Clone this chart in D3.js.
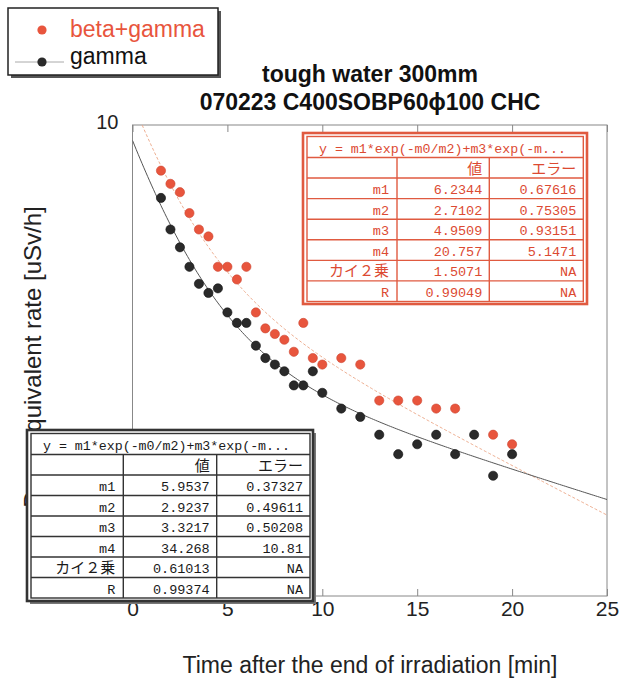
<!DOCTYPE html>
<html><head><meta charset="utf-8">
<script src="https://cdn.jsdelivr.net/npm/d3@7"></script>
<style>body{margin:0;background:#fff}</style>
</head><body>
<svg id="chart" width="630" height="680"></svg>
<script>
// ---- data ----
const timesRed = [1.5,2,2.5,3,3.5,4,4.5,5,5.5,6,6.5,7,7.5,8,8.5,9,9.5,10,11,12,13,14,15,16,17,19,20];
const betaGamma = [8.0,7.5,7.2,6.5,6.0,5.8,5.0,5.0,4.7,5.0,4.0,3.7,3.6,3.5,3.3,3.8,3.2,3.1,3.2,3.1,2.6,2.6,2.6,2.5,2.5,2.2,2.1];
const timesBlack = [1.5,2,2.5,3,3.5,4,4.5,5,5.5,6,6.5,7,7.5,8,8.5,9,9.5,10,11,12,13,14,15,16,17,18,19,20];
const gamma = [7.0,6.0,5.5,5.0,4.6,4.4,4.5,4.0,3.8,3.8,3.4,3.2,3.1,3.0,2.8,2.8,3.0,2.7,2.5,2.4,2.2,2.0,2.1,2.2,2.0,2.2,1.8,2.0];
const xTicks = [0,5,10,15,20,25];
const yTicks = [10];
const seriesNames = ["beta+gamma","gamma"];
const titleLines = ["tough water 300mm","070223 C400SOBP60\u03d5100 CHC"];
const xTitle = "Time after the end of irradiation [min]";
const yTitle = "Dose equivalent rate [uSv/h]";
const fitFormula = "y = m1*exp(-m0/m2)+m3*exp(-m...";
const colHeaders = ["", "値", "エラー"];
const paramNames = ["m1","m2","m3","m4","カイ２乗","R"];
const fitRedValues = ["6.2344","2.7102","4.9509","20.757","1.5071","0.99049"];
const fitRedErrors = ["0.67616","0.75305","0.93151","5.1471","NA","NA"];
const fitBlackValues = ["5.9537","2.9237","3.3217","34.268","0.61013","0.99374"];
const fitBlackErrors = ["0.37327","0.49611","0.50208","10.81","NA","NA"];

// ---- setup ----
const svg = d3.select("#chart");
const SANS = "'Liberation Sans', Arial, sans-serif";
const MONO = "'Liberation Mono', 'DejaVu Sans Mono', 'Noto Sans CJK JP', monospace";
const CJK = "'Noto Sans CJK JP', sans-serif";
const RED = "#e8553d", BLACK = "#2a2a2a";
const TRED = "#dc4a32";

const x = d3.scaleLinear().domain([0,25]).range([132.5,607]);
const y = d3.scaleLog().domain([1,10]).range([596,125]);

// title
svg.selectAll("text.title").data(titleLines).join("text")
  .attr("x", 370).attr("y", (d,i)=> 82 + i*28)
  .attr("text-anchor","middle").attr("font-family",SANS)
  .attr("font-weight","bold").attr("font-size",23).attr("fill","#111")
  .text(d=>d);

// axes
const gx = svg.append("g").attr("transform","translate(0,596)")
  .call(d3.axisBottom(x).tickValues(xTicks).tickSizeInner(-7).tickSizeOuter(0).tickPadding(5).tickFormat(d3.format("d")));
const gxTop = svg.append("g").attr("transform","translate(0,125)")
  .call(d3.axisTop(x).tickValues(xTicks).tickSizeInner(-7).tickSizeOuter(0).tickFormat(""));
const gy = svg.append("g").attr("transform","translate(132.5,0)")
  .call(d3.axisLeft(y).tickValues(yTicks).tickSize(0).tickPadding(14).tickFormat(d3.format("d")));
[gx,gxTop,gy].forEach(g=>{
  g.select(".domain").remove();
  g.selectAll(".tick line").attr("stroke","#888");
  g.selectAll("text").attr("font-family",SANS).attr("font-size",21).attr("fill","#222");
});
gy.selectAll("text").attr("font-size",20).attr("dy","0.18em");

// frame
svg.append("rect").attr("x",132.5).attr("y",125).attr("width",607-132.5).attr("height",596-125)
  .attr("fill","none").attr("stroke","#888").attr("stroke-width",1);

// axis titles
svg.append("text").attr("x",370).attr("y",673).attr("text-anchor","middle")
  .attr("font-family",SANS).attr("font-size",23).attr("fill","#222").text(xTitle);
svg.append("text").attr("transform","translate(41,357) rotate(-90)").attr("text-anchor","middle")
  .attr("font-family",SANS).attr("font-size",24).attr("fill","#222").text(yTitle);

// clip
svg.append("clipPath").attr("id","plotclip").append("rect")
  .attr("x",132.5).attr("y",125).attr("width",607-132.5).attr("height",596-125);

// fit curves drawn from the table parameters
function fitFn(vals){ const m1=+vals[0], m2=+vals[1], m3=+vals[2], m4=+vals[3];
  return t => m1*Math.exp(-t/m2) + m3*Math.exp(-t/m4); }
const ts = d3.range(0, 25.001, 0.1);
const line = d3.line().x(d=>x(d[0])).y(d=>y(d[1]));
const fRed = fitFn(fitRedValues), fBlack = fitFn(fitBlackValues);
const gc = svg.append("g").attr("clip-path","url(#plotclip)");
gc.append("path").attr("d", line(ts.map(t=>[t,fRed(t)])))
  .attr("fill","none").attr("stroke","#eba585").attr("stroke-width",0.9).attr("stroke-dasharray","3,2");
gc.append("path").attr("d", line(ts.map(t=>[t,fBlack(t)])))
  .attr("fill","none").attr("stroke","#555").attr("stroke-width",1);

// points
gc.selectAll("circle.red").data(timesRed.map((t,i)=>[t,betaGamma[i]])).join("circle")
  .attr("cx",d=>x(d[0])).attr("cy",d=>y(d[1])).attr("r",4.6).attr("fill",RED).attr("stroke","#cc4530").attr("stroke-width",0.6);
gc.selectAll("circle.blk").data(timesBlack.map((t,i)=>[t,gamma[i]])).join("circle")
  .attr("cx",d=>x(d[0])).attr("cy",d=>y(d[1])).attr("r",4.6).attr("fill",BLACK).attr("stroke","#111").attr("stroke-width",0.6);

// tables
function drawTable(o){
  const g = svg.append("g");
  if (o.shadow) g.append("rect").attr("x",o.ox0+3).attr("y",o.oy0+3).attr("width",o.ox1-o.ox0).attr("height",o.oy1-o.oy0).attr("fill","#777");
  g.append("rect").attr("x",o.ox0).attr("y",o.oy0).attr("width",o.ox1-o.ox0).attr("height",o.oy1-o.oy0)
    .attr("fill","#fff").attr("stroke",o.color).attr("stroke-width",2.6);
  const cx = o.cols, ix0 = cx[0], ix1 = cx[3];
  const rowsY = [o.iy0, o.iy0+o.hh];
  for (let i=1;i<=7;i++) rowsY.push(o.iy0+o.hh+i*o.rh);
  g.append("rect").attr("x",ix0).attr("y",o.iy0).attr("width",ix1-ix0).attr("height",rowsY[8]-o.iy0)
    .attr("fill","none").attr("stroke",o.color).attr("stroke-width",1.4);
  g.selectAll("line.r").data(rowsY.slice(1,8)).join("line")
    .attr("x1",ix0).attr("x2",ix1).attr("y1",d=>d).attr("y2",d=>d).attr("stroke",o.color).attr("stroke-width",1.4);
  g.selectAll("line.c").data([cx[1],cx[2]]).join("line")
    .attr("x1",d=>d).attr("x2",d=>d).attr("y1",rowsY[1]).attr("y2",rowsY[8]).attr("stroke",o.color).attr("stroke-width",1.4);
  // formula header
  g.append("text").attr("x",ix0+12).attr("y",rowsY[1]-5).attr("font-family",MONO).attr("font-size",13.5)
    .attr("textLength",247).attr("lengthAdjust","spacingAndGlyphs")
    .attr("fill",o.text).text(fitFormula);
  // column headers
  [1,2].forEach(c=>{
    g.append("text").attr("x",cx[c+1]-7).attr("y",rowsY[2]-4.5).attr("text-anchor","end")
      .attr("font-family",CJK).attr("font-size",15).attr("fill",o.text).text(colHeaders[c]);
  });
  paramNames.forEach((p,i)=>{
    const by = rowsY[i+3]-4.5;
    const isCJK = /[^\x00-\x7f]/.test(p);
    g.append("text").attr("x",cx[1]-8).attr("y",by).attr("text-anchor","end")
      .attr("font-family",isCJK?CJK:MONO).attr("font-size",isCJK?15:13.5).attr("fill",o.text).text(p);
    g.append("text").attr("x",cx[2]-7).attr("y",by).attr("text-anchor","end")
      .attr("font-family",MONO).attr("font-size",13.5).attr("fill",o.text).text(o.vals[i]);
    g.append("text").attr("x",cx[3]-7).attr("y",by).attr("text-anchor","end")
      .attr("font-family",MONO).attr("font-size",13.5).attr("fill",o.text).text(o.errs[i]);
  });
}
drawTable({ox0:303, oy0:133, ox1:587, oy1:304, iy0:136.5, hh:21, rh:20.57, cols:[307,397,489.3,583.3],
  color:"#e05a40", text:TRED, vals:fitRedValues, errs:fitRedErrors, shadow:false});
drawTable({ox0:27, oy0:430, ox1:313, oy1:601, iy0:433.5, hh:21, rh:20.5, cols:[31,123.3,216.7,310],
  color:"#333", text:"#1a1a1a", vals:fitBlackValues, errs:fitBlackErrors, shadow:true});

// legend
const lg = svg.append("g");
lg.append("rect").attr("x",11).attr("y",11).attr("width",210).attr("height",67).attr("fill","#555");
lg.append("rect").attr("x",8).attr("y",8).attr("width",210).attr("height",67).attr("fill","#fff").attr("stroke","#222").attr("stroke-width",1.5);
lg.append("line").attr("x1",15).attr("x2",64).attr("y1",62).attr("y2",62).attr("stroke","#aaa").attr("stroke-width",1);
lg.append("circle").attr("cx",42).attr("cy",30).attr("r",4.6).attr("fill",RED);
lg.append("circle").attr("cx",42).attr("cy",62).attr("r",4.6).attr("fill",BLACK);
lg.selectAll("text.lt").data(seriesNames).join("text")
  .attr("x",70).attr("y",(d,i)=>37+i*27).attr("font-family",SANS).attr("font-size",23)
  .attr("fill",(d,i)=> i===0 ? RED : "#111").text(d=>d);
</script>
</body></html>
